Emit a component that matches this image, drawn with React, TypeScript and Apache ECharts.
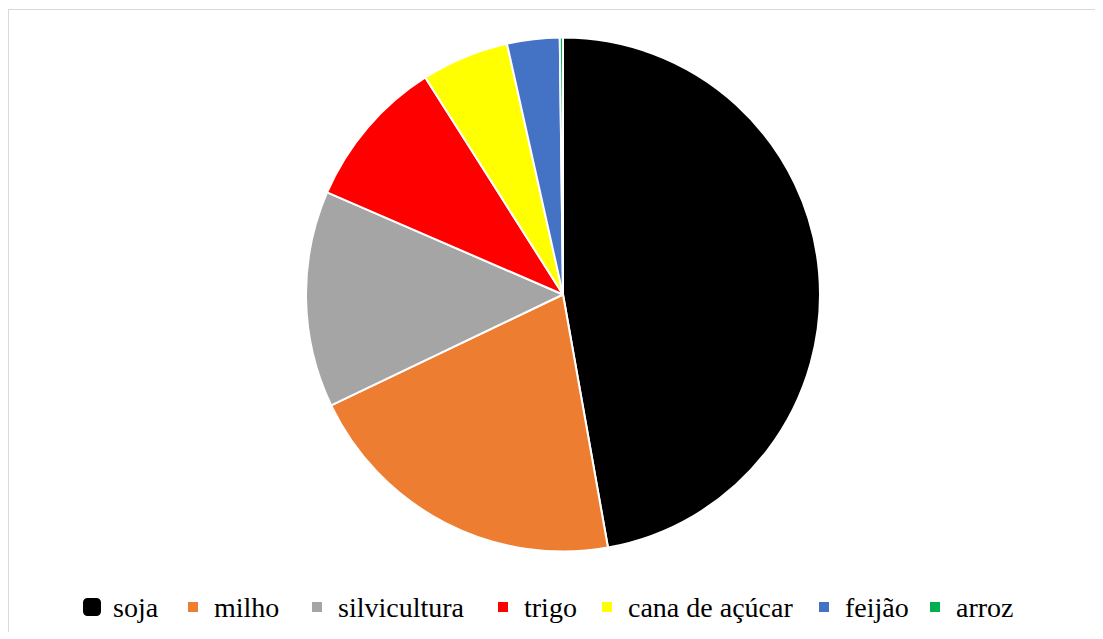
import React, { useEffect, useRef } from "react";
import * as echarts from "echarts";

const categories = ["soja", "milho", "silvicultura", "trigo", "cana de açúcar", "feijão", "arroz"];
const values = [47.2, 20.7, 13.6, 9.5, 5.5, 3.3, 0.2];
const colors = ["#000000", "#ED7D31", "#A5A5A5", "#FF0000", "#FFFF00", "#4472C4", "#00B050"];
const legendTextWidths = [55, 78, 140, 58, 171, 65, 58];

export default function App() {
  const ref = useRef<HTMLDivElement>(null);
  useEffect(() => {
    if (!ref.current) return;
    const chart = echarts.init(ref.current, null, { renderer: "svg" });
    const font = "Liberation Serif";
    chart.setOption({
      animation: false,
      backgroundColor: "#ffffff",
      legend: {
        orient: "horizontal",
        left: 74,
        top: 583,
        padding: 0,
        itemWidth: 18,
        itemHeight: 18,
        itemGap: 12,
        icon: "rect",
        textStyle: {
          fontFamily: font,
          fontSize: 28,
          color: "#000000",
          lineHeight: 28,
          padding: [0, 0, 0, 7],
        },
        data: categories.map((c, i) =>
          i === 0
            ? {
                name: c,
                icon: "roundRect",
                itemStyle: { borderWidth: 0 },
                textStyle: { width: legendTextWidths[i] },
              }
            : {
                name: c,
                icon: "rect",
                itemStyle: { borderColor: "#ffffff", borderWidth: 8 },
                textStyle: { width: legendTextWidths[i] },
              }
        ),
      },
      series: [
        {
          type: "pie",
          center: [554, 284.5],
          radius: [0, 257],
          startAngle: 90,
          clockwise: true,
          avoidLabelOverlap: false,
          label: { show: false },
          labelLine: { show: false },
          emphasis: { disabled: true },
          itemStyle: { borderColor: "#ffffff", borderWidth: 2 },
          data: categories.map((c, i) => ({
            name: c,
            value: values[i],
            itemStyle: { color: colors[i] },
          })),
        },
      ],
    });
    return () => chart.dispose();
  }, []);
  return (
    <div
      style={{
        width: 1087,
        height: 623,
        boxSizing: "border-box",
        borderTop: "1px solid #d9d9d9",
        borderLeft: "1px solid #d9d9d9",
        marginTop: 1,
        overflow: "hidden",
      }}
    >
      <div ref={ref} style={{ width: 1086, height: 622 }} />
    </div>
  );
}
